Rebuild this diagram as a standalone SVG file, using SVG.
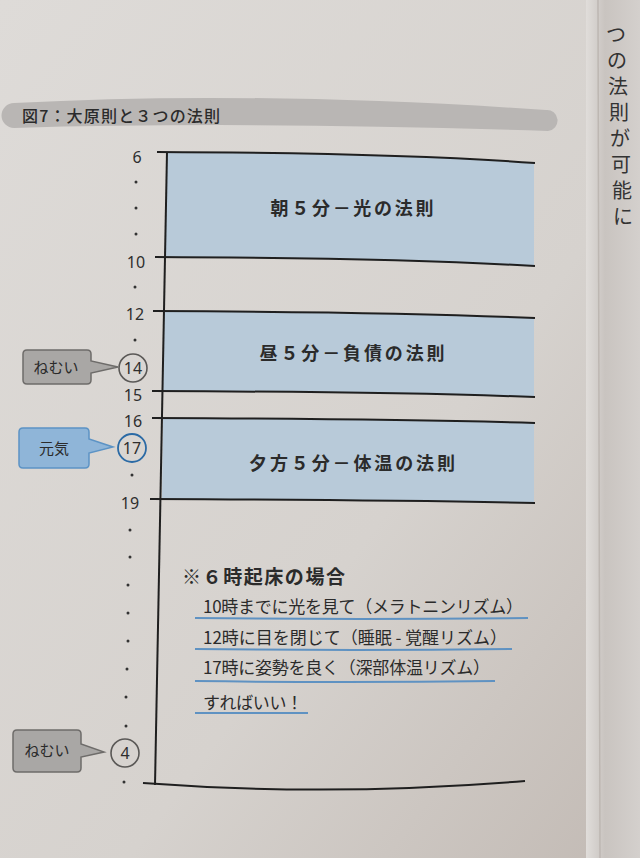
<svg xmlns="http://www.w3.org/2000/svg" width="640" height="858" viewBox="0 0 640 858">
  <defs>
    <linearGradient id="pageGrad" x1="0" y1="0" x2="1" y2="1">
      <stop offset="0" stop-color="#dedbd8"/>
      <stop offset="0.6" stop-color="#d6d2ce"/>
      <stop offset="1" stop-color="#c2bab4"/>
    </linearGradient>
    <linearGradient id="rightGrad" x1="0" y1="0" x2="1" y2="0">
      <stop offset="0" stop-color="#e0ddda"/>
      <stop offset="0.35" stop-color="#c9c4c0"/>
      <stop offset="1" stop-color="#d4d0cd"/>
    </linearGradient>
    <style>
      .jp { font-family: "Noto Sans CJK JP", "Noto Sans", sans-serif; fill: #2b2b2b; }
      .num { font-family: "Noto Sans", "Liberation Sans", sans-serif; font-size: 16px; fill: #2e2e2e; text-anchor: middle; }
      .line { fill: none; stroke: #1f1f1f; stroke-width: 2; }
      .band { fill: #b8cad9; }
      .title { font-weight: 700; font-size: 18px; text-anchor: middle; }
      .note { font-size: 17px; }
      .uline { stroke: #5f92c2; stroke-width: 2; fill: none; }
      .dot { fill: #333; }
      .grayBox { fill: #a9a7a5; stroke: #6e6c6a; stroke-width: 1.5; }
      .blueBox { fill: #8fb5d8; stroke: #5c93c5; stroke-width: 1.5; }
      .call { font-size: 15px; text-anchor: middle; }
      .vt { font-size: 20px; text-anchor: middle; fill: #333; }
    </style>
  </defs>

  <!-- page background -->
  <rect x="0" y="0" width="640" height="858" fill="url(#pageGrad)"/>
  <rect x="586" y="0" width="54" height="858" fill="url(#rightGrad)"/>
  <line x1="598" y1="0" x2="600" y2="858" stroke="#bdb7b2" stroke-width="1.5"/>

  <!-- next page vertical text -->
  <g id="next-page-text">
    <text class="jp vt" x="616" y="42">つ</text>
    <text class="jp vt" x="617" y="68">の</text>
    <text class="jp vt" x="618" y="94">法</text>
    <text class="jp vt" x="619" y="120">則</text>
    <text class="jp vt" x="620" y="146">が</text>
    <text class="jp vt" x="621" y="172">可</text>
    <text class="jp vt" x="622" y="198">能</text>
    <text class="jp vt" x="623" y="224">に</text>
  </g>

  <!-- title band -->
  <g id="title">
    <path d="M14,103 Q250,90 546,110 A10,10 0 0 1 548,131 Q250,121 14,128 A12,12 0 0 1 14,103 Z" fill="#b9b6b4"/>
    <text class="jp" x="22" y="122" font-size="16" font-weight="500" textLength="198" lengthAdjust="spacing">図7：大原則と３つの法則</text>
  </g>

  <!-- blue law bands -->
  <g id="band-morning">
    <path class="band" d="M167,152 Q400,153 534,163 L534,266 Q400,258 165,257 Z"/>
    <text class="jp title" x="352" y="215" textLength="163" lengthAdjust="spacing">朝５分－光の法則</text>
  </g>
  <g id="band-noon">
    <path class="band" d="M164,311 Q400,312 534,318 L534,397 Q400,392 163,391 Z"/>
    <text class="jp title" x="352" y="360" textLength="185" lengthAdjust="spacing">昼５分－負債の法則</text>
  </g>
  <g id="band-evening">
    <path class="band" d="M163,418 Q400,419 534,423 L534,503 Q400,500 162,499 Z"/>
    <text class="jp title" x="352" y="470" textLength="206" lengthAdjust="spacing">夕方５分－体温の法則</text>
  </g>

  <!-- axis and hour lines -->
  <g id="connectors">
    <line class="line" x1="167" y1="152" x2="155" y2="785"/>
    <path class="line" d="M157,152 Q400,153 535,163"/>
    <path class="line" d="M155,257 Q400,258 535,266"/>
    <path class="line" d="M153,311 Q400,312 535,318"/>
    <path class="line" d="M152,391 Q400,392 535,397"/>
    <path class="line" d="M152,418 Q400,419 535,423"/>
    <path class="line" d="M150,499 Q400,500 535,503"/>
    <path class="line" d="M143,783 Q330,797 525,781"/>
  </g>

  <!-- hour labels -->
  <g id="hours">
    <text class="num" x="137" y="163">6</text>
    <circle class="dot" cx="136" cy="182" r="1.5"/>
    <circle class="dot" cx="136" cy="208" r="1.5"/>
    <circle class="dot" cx="136" cy="234" r="1.5"/>
    <text class="num" x="136" y="268">10</text>
    <circle class="dot" cx="135" cy="287" r="1.5"/>
    <text class="num" x="135" y="320">12</text>
    <circle class="dot" cx="135" cy="340" r="1.5"/>
    <text class="num" x="133" y="401">15</text>
    <text class="num" x="133" y="427">16</text>
    <circle class="dot" cx="132" cy="475" r="1.5"/>
    <text class="num" x="130" y="509">19</text>
    <circle class="dot" cx="130" cy="530" r="1.5"/>
    <circle class="dot" cx="130" cy="557" r="1.5"/>
    <circle class="dot" cx="128" cy="585" r="1.5"/>
    <circle class="dot" cx="128" cy="613" r="1.5"/>
    <circle class="dot" cx="128" cy="641" r="1.5"/>
    <circle class="dot" cx="127" cy="669" r="1.5"/>
    <circle class="dot" cx="126" cy="697" r="1.5"/>
    <circle class="dot" cx="126" cy="726" r="1.5"/>
    <circle class="dot" cx="124" cy="782" r="1.5"/>
  </g>

  <!-- circled hours with callouts -->
  <g id="h14">
    <circle cx="133" cy="368" r="14" fill="none" stroke="#5a5856" stroke-width="1.6"/>
    <text class="num" x="133" y="374">14</text>
  </g>
  <g id="callout-14">
    <path class="grayBox" d="M27,350 H87 Q91,350 91,354 V361 L118,367 L91,373 V380 Q91,384 87,384 H27 Q23,384 23,380 V354 Q23,350 27,350 Z"/>
    <text class="jp call" x="56" y="373">ねむい</text>
  </g>

  <g id="h17">
    <circle cx="132" cy="448" r="14" fill="none" stroke="#2b6aa5" stroke-width="1.8"/>
    <text class="num" x="132" y="454">17</text>
  </g>
  <g id="callout-17">
    <path class="blueBox" d="M23,428 H85 Q89,428 89,432 V439 L113,447 L89,453 V464 Q89,468 85,468 H23 Q19,468 19,464 V432 Q19,428 23,428 Z"/>
    <text class="jp call" x="54" y="454">元気</text>
  </g>

  <g id="h4">
    <circle cx="125" cy="753" r="14" fill="none" stroke="#5a5856" stroke-width="1.6"/>
    <text class="num" x="125" y="759">4</text>
  </g>
  <g id="callout-4">
    <path class="grayBox" d="M17,730 H77 Q81,730 81,734 V744 L104,752 L81,757 V768 Q81,772 77,772 H17 Q13,772 13,768 V734 Q13,730 17,730 Z"/>
    <text class="jp call" x="47" y="756">ねむい</text>
  </g>

  <!-- note -->
  <g id="note">
    <text class="jp" x="182" y="584" font-size="19" font-weight="700" textLength="163" lengthAdjust="spacing">※６時起床の場合</text>
    <text class="jp note" x="203" y="613" textLength="320" lengthAdjust="spacing">10時までに光を見て（メラトニンリズム）</text>
    <path class="uline" d="M195,618 Q360,620 528,618"/>
    <text class="jp note" x="203" y="644" textLength="304" lengthAdjust="spacing">12時に目を閉じて（睡眠 - 覚醒リズム）</text>
    <path class="uline" d="M195,649 Q355,651 512,649"/>
    <text class="jp note" x="203" y="674" textLength="287" lengthAdjust="spacing">17時に姿勢を良く（深部体温リズム）</text>
    <path class="uline" d="M195,681 Q345,683 495,681"/>
    <text class="jp note" x="203" y="709" textLength="100" lengthAdjust="spacing">すればいい！</text>
    <path class="uline" d="M195,713 L308,713"/>
  </g>
</svg>
